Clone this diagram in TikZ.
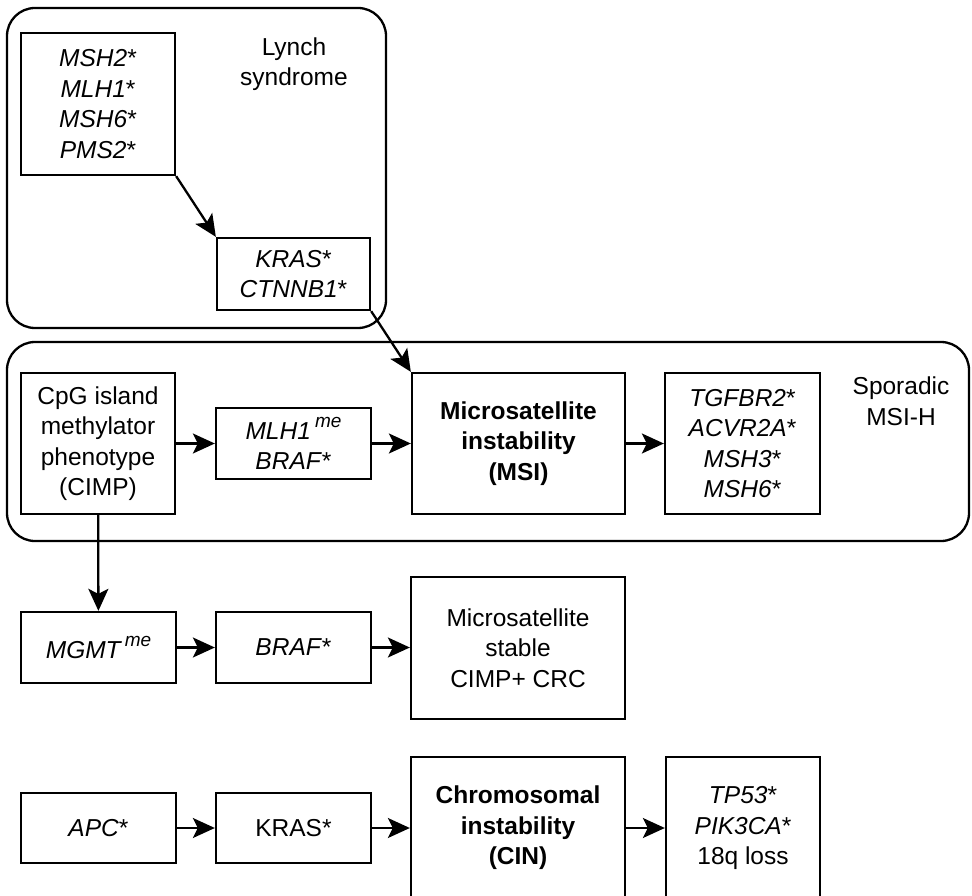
\documentclass[tikz,border=0pt]{standalone}
\usepackage{fontspec}
\setmainfont{Liberation Sans}
\usetikzlibrary{arrows.meta}
\begin{document}
\begin{tikzpicture}[x=1pt,y=-1pt,
  font=\fontsize{24.5}{30.5}\selectfont,
  box/.style={draw, line width=2.3pt, rectangle, inner sep=0pt, align=center},
  group/.style={draw, line width=2.3pt, rounded corners=28pt},
  lbl/.style={align=center, inner sep=0pt},
  arr/.style={line width=2.3pt, -{Stealth[length=22pt,width=20pt,inset=5pt]}}]
\clip (0,0) rectangle (972,896);
\fill[white] (0,0) rectangle (972,896);
% groups
\draw[group] (7,8) rectangle (386,328);
\draw[group] (7,342) rectangle (969,541);
\node[lbl] (lynchlbl) at (294,64) {Lynch\\syndrome};
\node[lbl] (sporlbl) at (901,401) {Sporadic\\MSI-H};
% Lynch
\node[box, minimum width=154pt, minimum height=142pt] (msh) at (98,104)
  {\textit{MSH2}*\\\textit{MLH1}*\\\textit{MSH6}*\\\textit{PMS2}*};
\node[box, minimum width=153pt, minimum height=72pt] (krasA) at (293.5,274)
  {\textit{KRAS}*\\\textit{CTNNB1}*};
% Sporadic
\node[box, minimum width=154pt, minimum height=141pt] (cimp) at (98,443.5)
  {CpG island\\methylator\\phenotype\\(CIMP)};
\node[box, minimum width=155pt, minimum height=71pt] (mlh) at (293.5,443.5)
  {\textit{MLH1\,\raisebox{0.5em}{\fontsize{19}{19}\selectfont me}}\\\textit{BRAF}*};
\node[box, minimum width=213pt, minimum height=141pt] (msi) at (518.5,443.5)
  {\textbf{Microsatellite}\\\textbf{instability}\\\textbf{(MSI)}};
\node[box, minimum width=155pt, minimum height=141pt] (tgf) at (742.5,443.5)
  {\textit{TGFBR2}*\\\textit{ACVR2A}*\\\textit{MSH3}*\\\textit{MSH6}*};
% third row
\node[box, minimum width=155pt, minimum height=71pt] (mgmt) at (98.5,647.5)
  {\textit{MGMT\,\raisebox{0.5em}{\fontsize{19}{19}\selectfont me}}};
\node[box, minimum width=155pt, minimum height=71pt] (braf) at (293.5,647.5)
  {\textit{BRAF}*};
\node[box, minimum width=214pt, minimum height=142pt] (mss) at (518,648)
  {Microsatellite\\stable\\CIMP+ CRC};
% fourth row
\node[box, minimum width=155pt, minimum height=70pt] (apc) at (98.5,828)
  {\textit{APC}*};
\node[box, minimum width=155pt, minimum height=70pt] (krasB) at (293.5,828)
  {KRAS*};
\node[box, minimum width=214pt, minimum height=142pt] (cin) at (518,828)
  {\textbf{Chromosomal}\\\textbf{instability}\\\textbf{(CIN)}};
\node[box, minimum width=154pt, minimum height=142pt] (tp) at (743,828)
  {\textit{TP53}*\\\textit{PIK3CA}*\\18q loss};
% connectors
\draw[arr] (msh.south east) -- (krasA.north west);
\draw[arr] (krasA.south east) -- (msi.north west);
\draw[arr] (cimp) -- (mlh);
\draw[arr] (mlh) -- (msi);
\draw[arr] (msi) -- (tgf);
\draw[arr] (cimp) -- (mgmt);
\draw[arr] (mgmt) -- (braf);
\draw[arr] (braf.east) -- (mss.west |- braf.east);
\draw[arr] (apc) -- (krasB);
\draw[arr] (krasB) -- (cin);
\draw[arr] (cin) -- (tp);
\end{tikzpicture}
\end{document}
